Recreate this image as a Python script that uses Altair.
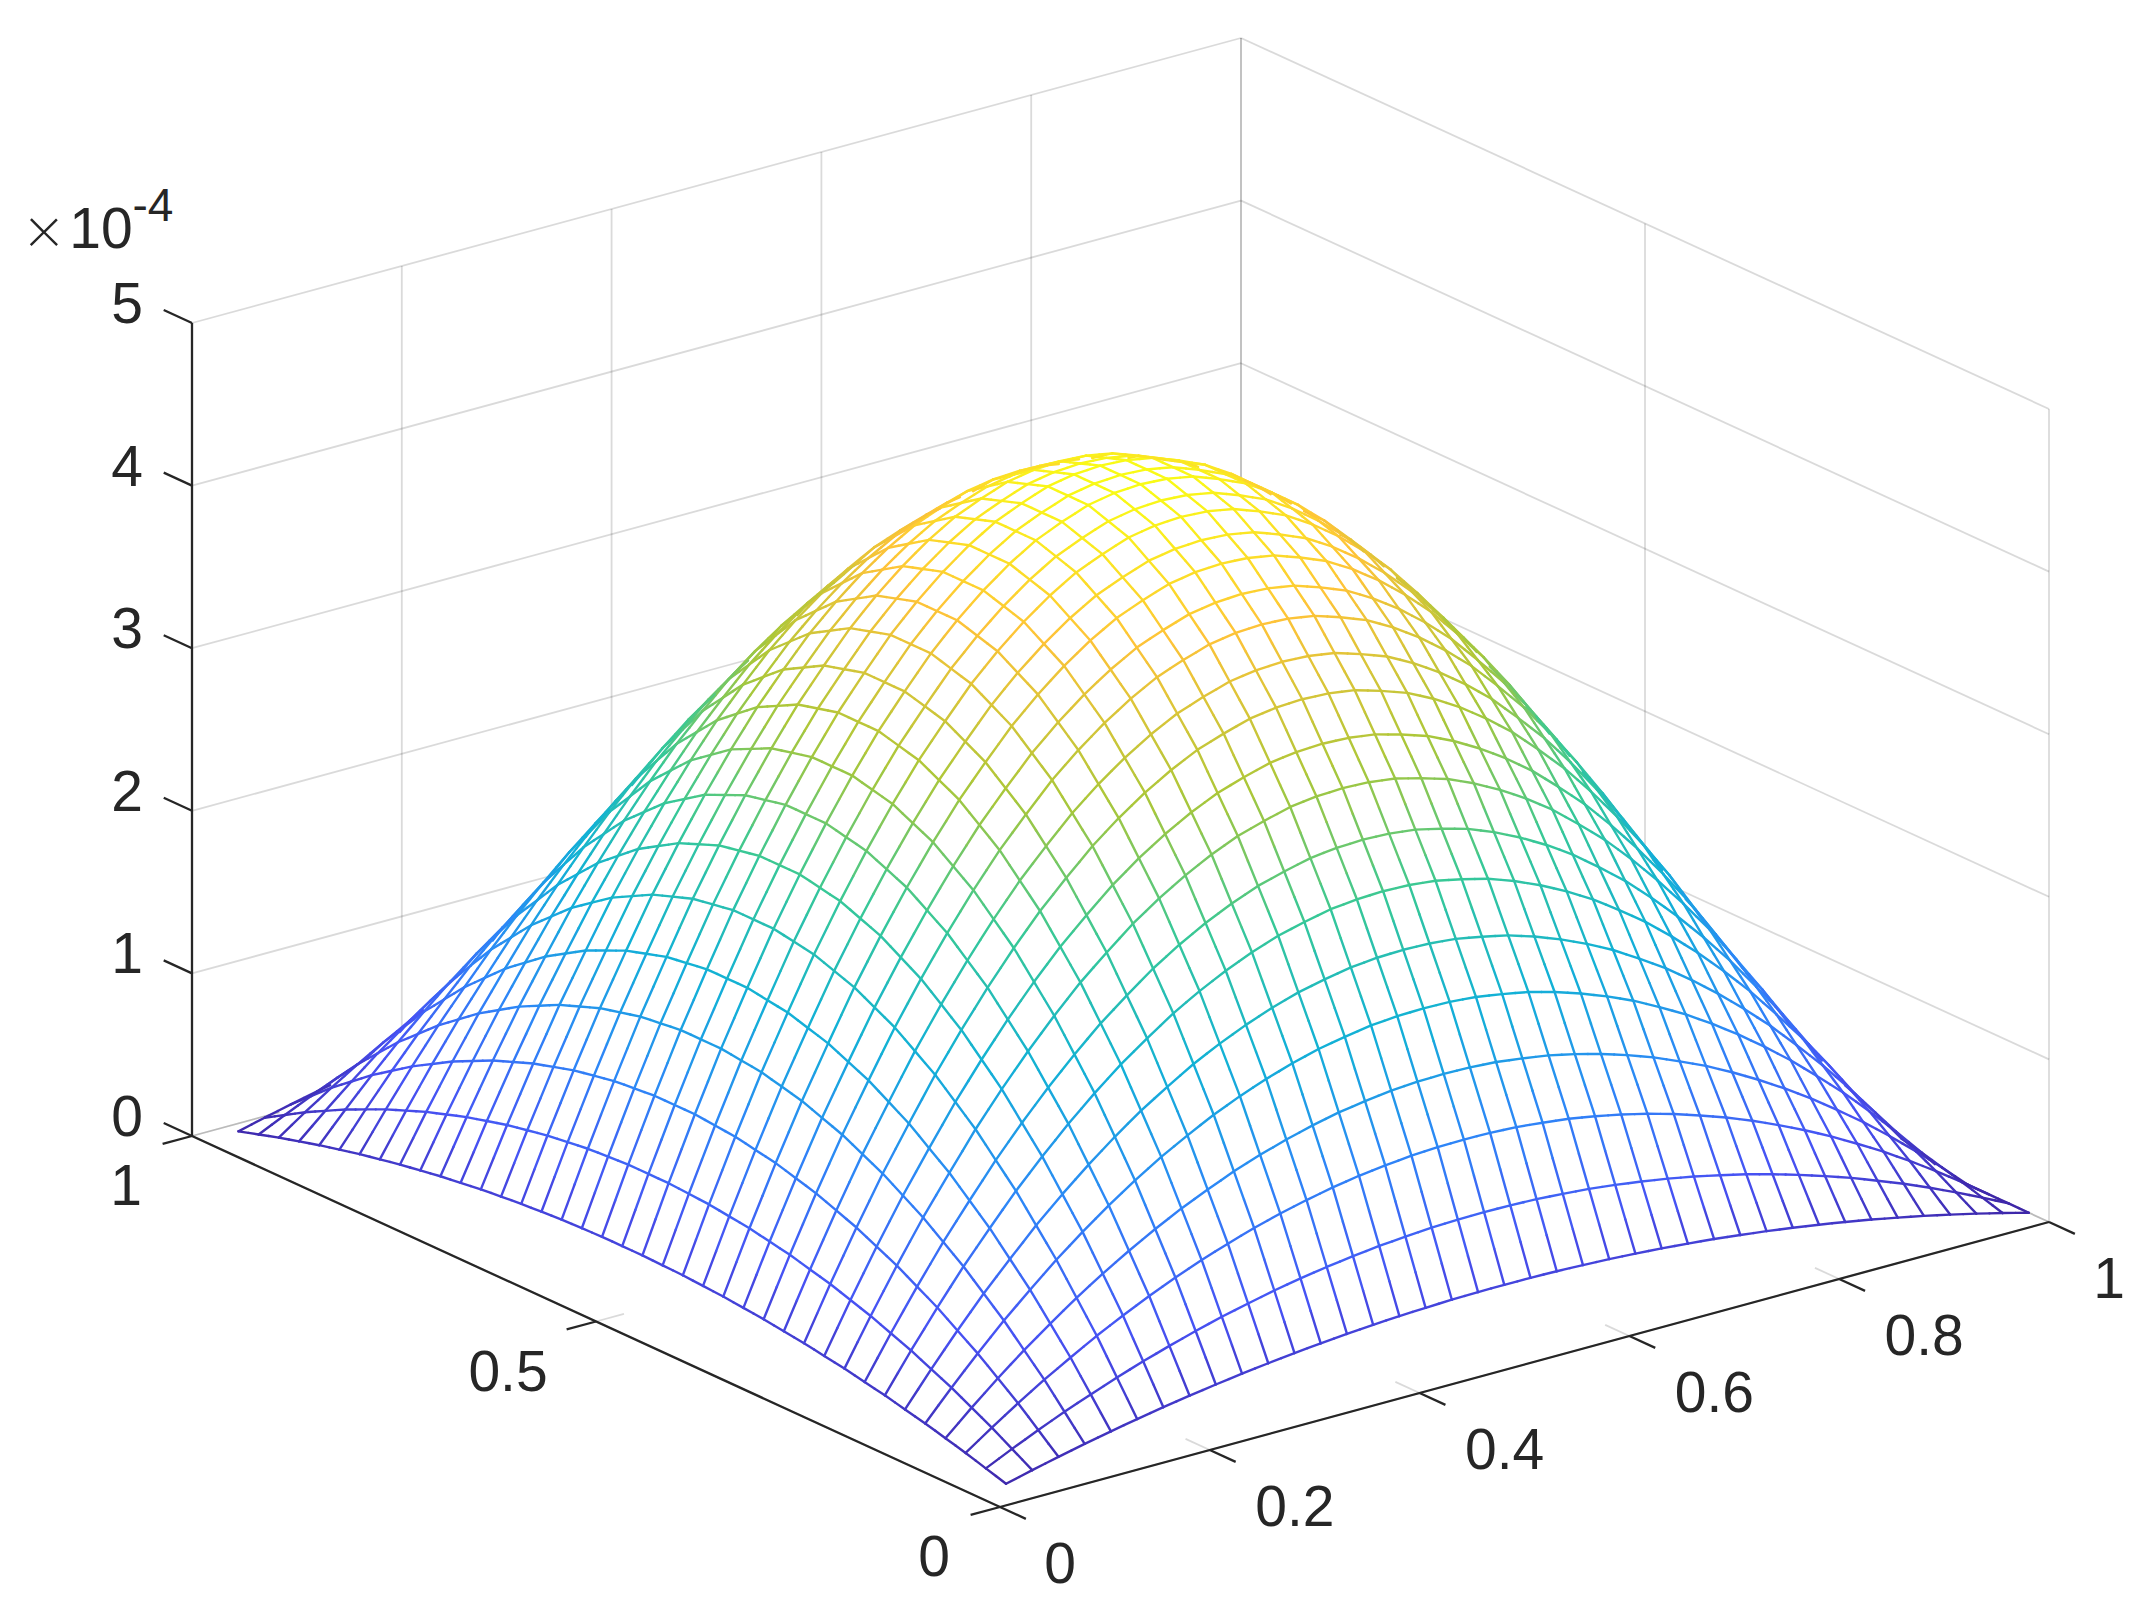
import altair as alt
import numpy as np
import pandas as pd

# mesh grid positions and heights (z in units of 1e-4)
x_grid = [0.025, 0.05, 0.075, 0.1, 0.125, 0.15, 0.175, 0.2, 0.225, 0.25, 0.275, 0.3, 0.325,
          0.35, 0.375, 0.4, 0.425, 0.45, 0.475, 0.5, 0.525, 0.55, 0.575, 0.6, 0.625, 0.65,
          0.675, 0.7, 0.725, 0.75, 0.775, 0.8, 0.825, 0.85, 0.875, 0.9, 0.925, 0.95, 0.975, 1.0]
y_grid = x_grid[:-1]
ridge_z = [0.42, 0.82, 1.20, 1.56, 1.89, 2.21, 2.50, 2.77, 3.02, 3.25, 3.45, 3.64, 3.80,
           3.94, 4.06, 4.16, 4.23, 4.29, 4.32, 4.33, 4.32, 4.29, 4.23, 4.16, 4.06, 3.94,
           3.80, 3.64, 3.45, 3.25, 3.02, 2.77, 2.50, 2.21, 1.89, 1.56, 1.20, 0.82, 0.42, 0.0]
cross_share = [0.10, 0.19, 0.28, 0.36, 0.44, 0.51, 0.58, 0.64, 0.70, 0.75, 0.80, 0.84, 0.88,
               0.91, 0.94, 0.96, 0.98, 0.99, 1.00, 1.00, 1.00, 0.99, 0.98, 0.96, 0.94, 0.91,
               0.88, 0.84, 0.80, 0.75, 0.70, 0.64, 0.58, 0.51, 0.44, 0.36, 0.28, 0.19, 0.10]

x_ticks = [0, 0.2, 0.4, 0.6, 0.8, 1]
x_tick_labels = ["0", "0.2", "0.4", "0.6", "0.8", "1"]
y_ticks = [0, 0.5, 1]
y_tick_labels = ["0", "0.5", "1"]
z_ticks = [0, 1, 2, 3, 4, 5]
z_tick_labels = ["0", "1", "2", "3", "4", "5"]

parula = ["#3e26a8", "#4752f4", "#2d87f7", "#12b1d6", "#37c897", "#abc739", "#fec338", "#f9fb15"]
parula_stops = [0, 0.143, 0.286, 0.429, 0.571, 0.72, 0.88, 1]

TEXT = "#262626"
FONT = "Liberation Sans"

# view of the box: where the front corner sits and how the three axes run across the page
ORIGIN = np.array([1000.0, 1507.0])
EX = np.array([1049.0, -285.0])
EY = np.array([-808.0, -371.0])
EZ = np.array([0.0, -162.6])
# direction towards the viewer in (x, y, z), the one that leaves a point where it is on the page
VIEW = np.array([-0.77, -1.0, 3.63])

xg = np.array(x_grid)
yg = np.array(y_grid)
zg = np.outer(ridge_z, cross_share)


def project(x, y, z):
    return (ORIGIN[0] + x * EX[0] + y * EY[0] + z * EZ[0],
            ORIGIN[1] + x * EX[1] + y * EY[1] + z * EZ[1])


def height(x, y):
    return np.interp(x, xg, ridge_z) * np.interp(y, yg, cross_share)


def hidden(x, y, z):
    # walk from each point towards the viewer, hidden if the surface is above the walk
    x, y, z = np.asarray(x, float), np.asarray(y, float), np.asarray(z, float)
    t = np.linspace(0.006, 1.3, 260)[:, None]
    rx, ry, rz = x + VIEW[0] * t, y + VIEW[1] * t, z + VIEW[2] * t
    inside = (rx >= xg[0]) & (rx <= xg[-1]) & (ry >= yg[0]) & (ry <= yg[-1])
    return ((height(rx, ry) > rz + 0.012) & inside).any(axis=0)


def segment(p0, p1, **extra):
    sx, sy = project(*p0)
    sx2, sy2 = project(*p1)
    return {"sx": sx, "sy": sy, "sx2": sx2, "sy2": sy2, **extra}


def mesh_line(xs, ys):
    zs = height(xs, ys)
    vis = ~hidden((xs[:-1] + xs[1:]) / 2, (ys[:-1] + ys[1:]) / 2, (zs[:-1] + zs[1:]) / 2)
    return [
        segment((xs[k], ys[k], zs[k]), (xs[k + 1], ys[k + 1], zs[k + 1]), z=(zs[k] + zs[k + 1]) / 2)
        for k in np.nonzero(vis)[0]
    ]


# mesh lines, cut in halves so the hidden test and the colour follow the surface
y_fine = np.interp(np.arange(2 * len(yg) - 1) / 2, np.arange(len(yg)), yg)
x_fine = np.interp(np.arange(2 * len(xg) - 1) / 2, np.arange(len(xg)), xg)
mesh_rows = []
for x in xg:
    mesh_rows += mesh_line(np.full(len(y_fine), x), y_fine)
for y in yg:
    mesh_rows += mesh_line(x_fine, np.full(len(x_fine), y))
mesh_df = pd.DataFrame(mesh_rows)

# grid lines on floor and back walls, only the runs that the surface does not cover
grid_lines = []
for x in x_ticks:
    grid_lines.append(((x, 0, 0), (x, 1, 0)))
    grid_lines.append(((x, 1, 0), (x, 1, 5)))
for y in y_ticks:
    grid_lines.append(((0, y, 0), (1, y, 0)))
    grid_lines.append(((1, y, 0), (1, y, 5)))
for z in z_ticks:
    grid_lines.append(((0, 1, z), (1, 1, z)))
    grid_lines.append(((1, 0, z), (1, 1, z)))

grid_rows = []
for a, b in grid_lines:
    s = np.linspace(0, 1, 301)
    pts = np.array(a)[None, :] + s[:, None] * (np.array(b) - np.array(a))[None, :]
    vis = ~hidden(pts[:, 0], pts[:, 1], pts[:, 2])
    start = None
    for k in range(len(s)):
        if vis[k] and start is None:
            start = k
        if start is not None and (not vis[k] or k == len(s) - 1):
            end = k if vis[k] else k - 1
            if end > start:
                grid_rows.append(segment(pts[start], pts[end]))
            start = None
grid_df = pd.DataFrame(grid_rows)

# axes and ticks
axis_rows = [
    segment((0, 0, 0), (1, 0, 0)),
    segment((0, 0, 0), (0, 1, 0)),
    segment((0, 1, 0), (0, 1, 5)),
]
for x in x_ticks:
    axis_rows.append(segment((x, 0, 0), (x, -0.032, 0)))
for y in y_ticks:
    axis_rows.append(segment((0, y, 0), (-0.028, y, 0)))
for z in z_ticks:
    axis_rows.append(segment((0, 1, z), (0, 1.035, z)))
axis_df = pd.DataFrame(axis_rows)

# tick labels, offset from their ticks
label_rows = []
for v, t in zip(x_ticks, x_tick_labels):
    sx, sy = project(v, 0, 0)
    label_rows.append({"sx": sx + (85 if len(t) > 1 else 60), "sy": sy + 59, "t": t})
for v, t in zip(y_ticks, y_tick_labels):
    sx, sy = project(0, v, 0)
    label_rows.append({"sx": sx - (88 if len(t) > 1 else 66), "sy": sy + 52, "t": t})
for v, t in zip(z_ticks, z_tick_labels):
    sx, sy = project(0, 1, v)
    label_rows.append({"sx": sx - 65, "sy": sy - 17, "t": t})
label_df = pd.DataFrame(label_rows)

times_df = pd.DataFrame({"sx": [44], "sy": [234], "t": ["×"]})
exp_df = pd.DataFrame({"sx": [101], "sy": [231], "t": ["10"]})
sup_df = pd.DataFrame({"sx": [153], "sy": [207], "t": ["-4"]})

# the scales run in page pixels so the view above can be read straight off the picture
sx_scale = alt.Scale(domain=[8, 2145], nice=False, zero=False)
sy_scale = alt.Scale(domain=[1604, 8], nice=False, zero=False)
X = alt.X("sx:Q", scale=sx_scale, axis=None)
Y = alt.Y("sy:Q", scale=sy_scale, axis=None)

grid_layer = alt.Chart(grid_df).mark_rule(color=TEXT, opacity=0.17, strokeWidth=1.8).encode(
    x=X, y=Y, x2="sx2:Q", y2="sy2:Q"
)
axis_layer = alt.Chart(axis_df).mark_rule(color=TEXT, strokeWidth=2.3).encode(
    x=X, y=Y, x2="sx2:Q", y2="sy2:Q"
)
z_lo, z_hi = zg.min(), zg.max()
mesh_layer = alt.Chart(mesh_df).mark_rule(strokeWidth=2.4, strokeCap="round").encode(
    x=X, y=Y, x2="sx2:Q", y2="sy2:Q",
    color=alt.Color(
        "z:Q",
        legend=None,
        scale=alt.Scale(
            domain=[z_lo + s * (z_hi - z_lo) for s in parula_stops],
            range=parula,
            interpolate="rgb",
        ),
    ),
)


def text_layer(df, size, font=FONT, weight="normal"):
    return alt.Chart(df).mark_text(
        font=font, fontSize=size, fontWeight=weight, color=TEXT, align="center", baseline="middle"
    ).encode(x=X, y=Y, text="t:N")


chart = alt.layer(
    grid_layer,
    axis_layer,
    mesh_layer,
    text_layer(label_df, 57),
    text_layer(times_df, 66, "Lato", 300),
    text_layer(exp_df, 57),
    text_layer(sup_df, 46),
).properties(
    width=2137,
    height=1596,
    padding=0,
    autosize=alt.AutoSizeParams(type="none"),
).configure_view(stroke=None)

chart.save("out.html", embed_options={"renderer": "svg", "actions": False})
